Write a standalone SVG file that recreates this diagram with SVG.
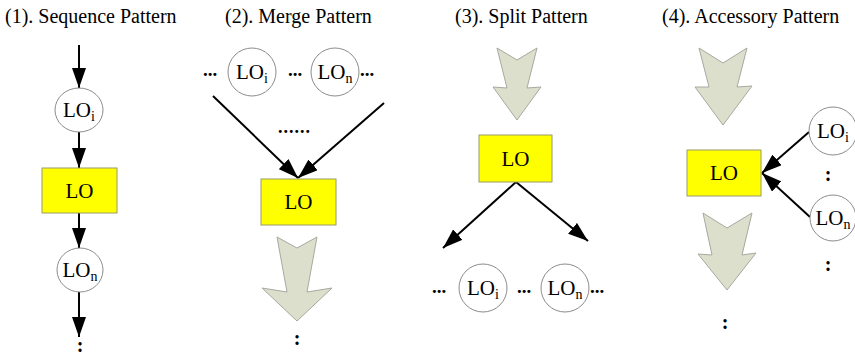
<svg xmlns="http://www.w3.org/2000/svg" width="855" height="355" viewBox="0 0 855 355">
<style>
text{font-family:"Liberation Serif","Times New Roman",serif;fill:#000}
.title{font-size:20px}
.lbl{font-size:21px;text-anchor:middle}
.sub{font-size:14px}
.dots{font-size:19px;font-weight:bold}
.col{font-size:20px;font-weight:bold;text-anchor:middle}
.lo{fill:#ffff00;stroke:#9a9a6a;stroke-width:1}
.c{fill:#fff;stroke:#8c8c8c;stroke-width:1}
.blk{fill:#dcdfcc;stroke:#a8a8a0;stroke-width:1}
.e{stroke:#000;stroke-width:2;fill:none;marker-end:url(#ah)}
</style>
<defs>
<marker id="ah" viewBox="0 0 20 14" refX="20" refY="7" markerWidth="20" markerHeight="14" markerUnits="userSpaceOnUse" orient="auto">
<path d="M0,0 L20,7 L0,14 z" fill="#000"/>
</marker>
</defs>
<rect width="855" height="355" fill="#fff"/>

<g id="titles">
<text class="title" x="5" y="23">(1). Sequence Pattern</text>
<text class="title" x="225" y="23">(2). Merge Pattern</text>
<text class="title" x="455" y="23">(3). Split Pattern</text>
<text class="title" x="662" y="23">(4). Accessory Pattern</text>
</g>

<g id="connectors">
<line class="e" x1="79" y1="45" x2="79" y2="88"/>
<line class="e" x1="79" y1="132" x2="79" y2="168"/>
<line class="e" x1="79" y1="213" x2="79" y2="248"/>
<line class="e" x1="79" y1="292" x2="79" y2="337"/>
<line class="e" x1="213" y1="96" x2="298" y2="178"/>
<line class="e" x1="384" y1="103" x2="298" y2="178"/>
<line class="e" x1="516" y1="182" x2="443" y2="248"/>
<line class="e" x1="516" y1="182" x2="588" y2="241"/>
<line class="e" x1="809" y1="132" x2="762" y2="173"/>
<line class="e" x1="810" y1="217" x2="762" y2="173"/>
</g>

<g id="p1">
<g id="p1-loi"><ellipse class="c" cx="79" cy="110" rx="24" ry="22"/><text class="lbl" x="79" y="117">LO<tspan class="sub" dy="4">i</tspan></text></g>
<g id="p1-lo"><rect class="lo" x="42" y="168" width="75" height="45"/><text class="lbl" x="79.5" y="198">LO</text></g>
<g id="p1-lon"><ellipse class="c" cx="80" cy="270" rx="23" ry="22"/><text class="lbl" x="80" y="277">LO<tspan class="sub" dy="4">n</tspan></text></g>
<text class="col" x="80" y="352">:</text>
</g>

<g id="p2">
<text class="dots" x="203" y="76">...</text>
<g id="p2-loi"><circle class="c" cx="252" cy="72" r="24"/><text class="lbl" x="252" y="79">LO<tspan class="sub" dy="4">i</tspan></text></g>
<text class="dots" x="288" y="76">...</text>
<g id="p2-lon"><circle class="c" cx="335" cy="72" r="24"/><text class="lbl" x="335" y="79">LO<tspan class="sub" dy="4">n</tspan></text></g>
<text class="dots" x="360" y="76">...</text>
<text x="278" y="133" style="font-size:18px;font-weight:bold;letter-spacing:1px">......</text>
<g id="p2-lo"><rect class="lo" x="261" y="179" width="75" height="46"/><text class="lbl" x="298.5" y="209">LO</text></g>
<polygon id="p2-blk" class="blk" points="277,237 297,248 317,237 307,292 332,288 297,321 262,288 287,292"/>
<text class="col" x="297" y="345">:</text>
</g>

<g id="p3">
<polygon id="p3-blk" class="blk" points="497,48 517,60 537,48 527,88 541,87 517,120 493,87 507,88"/>
<g id="p3-lo"><rect class="lo" x="479" y="135" width="73" height="47"/><text class="lbl" x="515.5" y="166">LO</text></g>
<text class="dots" x="432" y="293">...</text>
<g id="p3-loi"><circle class="c" cx="483" cy="288" r="24"/><text class="lbl" x="483" y="295">LO<tspan class="sub" dy="4">i</tspan></text></g>
<text class="dots" x="517" y="293">...</text>
<g id="p3-lon"><circle class="c" cx="565" cy="288" r="24"/><text class="lbl" x="565" y="295">LO<tspan class="sub" dy="4">n</tspan></text></g>
<text class="dots" x="590" y="293">...</text>
</g>

<g id="p4">
<polygon id="p4-blk1" class="blk" points="699,48 723,63 747,48 737,87 752,86 723,125 695,87 709,87"/>
<g id="p4-lo"><rect class="lo" x="687" y="150" width="74" height="46"/><text class="lbl" x="724" y="180">LO</text></g>
<g id="p4-loi"><circle class="c" cx="833" cy="131" r="24"/><text class="lbl" x="833" y="138">LO<tspan class="sub" dy="4">i</tspan></text></g>
<text class="col" x="828" y="181">:</text>
<g id="p4-lon"><circle class="c" cx="833" cy="218" r="23"/><text class="lbl" x="833" y="225">LO<tspan class="sub" dy="4">n</tspan></text></g>
<text class="col" x="828" y="271">:</text>
<polygon id="p4-blk2" class="blk" points="703,213 727,228 752,213 742,255 756,253 727,290 698,254 712,255"/>
<text class="col" x="725" y="329">:</text>
</g>
</svg>
